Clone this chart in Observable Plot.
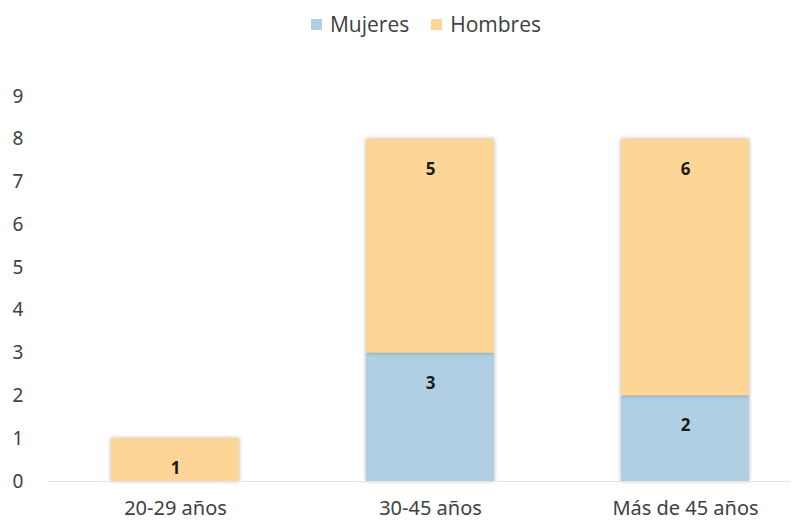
<!DOCTYPE html>
<html>
<head>
<meta charset="utf-8">
<script src="https://cdn.jsdelivr.net/npm/d3@7"></script>
<script src="https://cdn.jsdelivr.net/npm/@observablehq/plot@0.6"></script>
<style>
  html, body { margin: 0; padding: 0; background: #fff; }
  body { width: 798px; height: 523px; overflow: hidden; font-family: "Open Sans", "Noto Sans", sans-serif; }
  #legend { height: 45px; display: flex; justify-content: center; align-items: flex-start; padding-top: 10px; padding-left: 54px; box-sizing: border-box; gap: 22px; font-size: 21px; color: #404040; }
  #legend .item { display: flex; align-items: center; gap: 8px; }
  #legend .sw { width: 11px; height: 11px; display: inline-block; }
</style>
</head>
<body>
<div id="legend"></div>
<div id="chart"></div>
<script>
const categories = ["20-29 años", "30-45 años", "Más de 45 años"];
const series = ["Mujeres", "Hombres"];
const mujeres = [0, 3, 2];
const hombres = [1, 5, 6];
const colors = ["#b0cfe2", "#fdd597"];
const yTicks = [0, 1, 2, 3, 4, 5, 6, 7, 8, 9];

const data = [];
categories.forEach((c, i) => {
  data.push({cat: c, sex: "Mujeres", value: mujeres[i]});
  data.push({cat: c, sex: "Hombres", value: hombres[i]});
});

const legend = document.getElementById("legend");
series.forEach((s, i) => {
  const it = document.createElement("div");
  it.className = "item";
  it.innerHTML = `<span class="sw" style="background:${colors[i]}"></span><span>${s}</span>`;
  legend.appendChild(it);
});

const chart = Plot.plot({
  width: 798,
  height: 478,
  marginLeft: 62,
  marginRight: 0,
  marginTop: 51,
  marginBottom: 42,
  style: {fontFamily: "'Noto Sans', 'Open Sans', sans-serif", color: "#404040", background: "#fff"},
  x: {domain: categories, paddingInner: 0.5, paddingOuter: 0.192, label: null},
  y: {domain: [0, 9], ticks: yTicks, label: null},
  color: {domain: series, range: colors},
  marks: [
    Plot.axisX({tickSize: 0, tickPadding: 19, fontSize: 20, label: null}),
    Plot.axisY({ticks: yTicks, tickSize: 0, tickPadding: 50, fontSize: 19, label: null, textAnchor: "start"}),
    Plot.barY(data, {x: "cat", y: "value", fill: "sex", order: series}),
    Plot.ruleY([0], {stroke: "#e3e3e3", strokeWidth: 1, insetLeft: -14, insetRight: 8}),
    Plot.text(data.filter(d => d.value > 0), Plot.stackY2({x: "cat", y: "value", z: "sex", order: series, text: d => String(d.value), dy: 30, fontSize: 17, fontWeight: "bold", fill: "#1a1a1a"}))
  ]
});
document.getElementById("chart").appendChild(chart);
chart.querySelectorAll('g[aria-label="bar"] rect').forEach(r => {
  r.style.filter = "drop-shadow(0px 0px 2px rgba(0,0,0,0.3))";
});
</script>
</body>
</html>
